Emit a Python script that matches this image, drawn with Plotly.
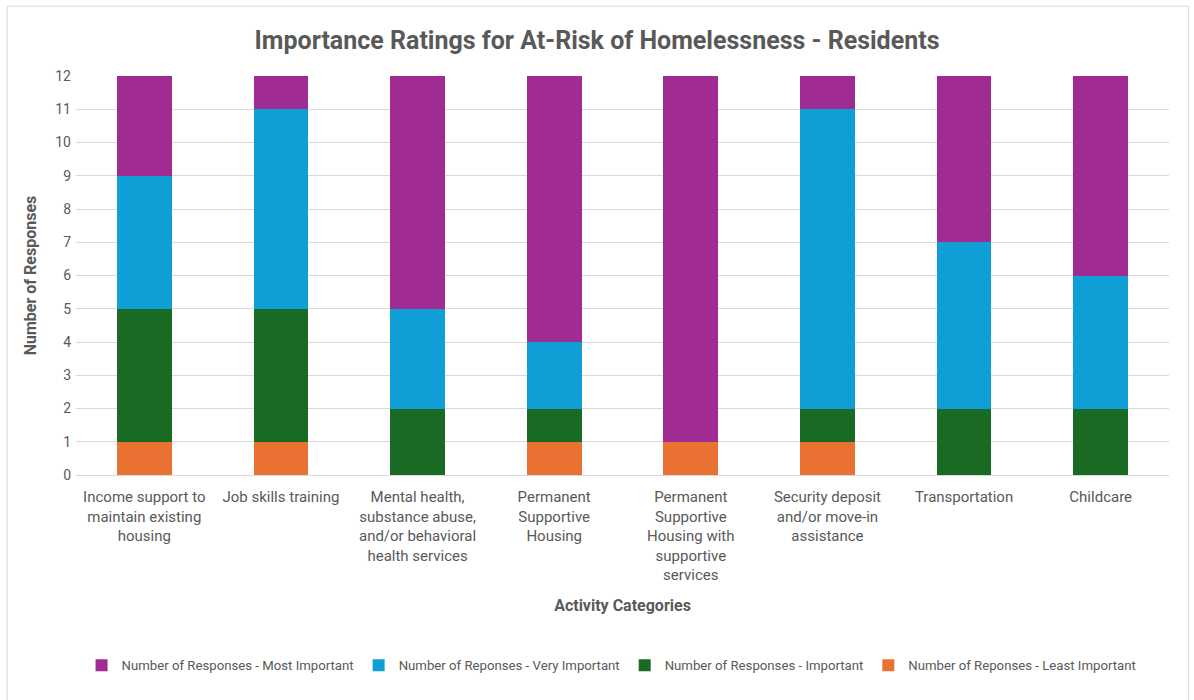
import plotly.graph_objects as go

categories = [
    "Income support to<br>maintain existing<br>housing",
    "Job skills training",
    "Mental health,<br>substance abuse,<br>and/or behavioral<br>health services",
    "Permanent<br>Supportive<br>Housing",
    "Permanent<br>Supportive<br>Housing with<br>supportive<br>services",
    "Security deposit<br>and/or move-in<br>assistance",
    "Transportation",
    "Childcare",
]
least = [1, 1, 0, 1, 1, 1, 0, 0]
important = [4, 4, 2, 1, 0, 1, 2, 2]
very = [4, 6, 3, 2, 0, 9, 5, 4]
most = [3, 1, 7, 8, 11, 1, 5, 6]

series = [
    ("Number of Reponses - Least Important", least, "#E97132"),
    ("Number of Responses - Important", important, "#196B24"),
    ("Number of Reponses - Very Important", very, "#0F9ED5"),
    ("Number of Responses - Most Important", most, "#A02B93"),
]

fig = go.Figure()
for name, vals, col in series:
    fig.add_trace(go.Bar(x=categories, y=vals, name=name, marker_color=col,
                         marker_line_width=0))

font = "Roboto"
fig.update_layout(
    barmode="stack",
    bargap=0.6,
    width=1194, height=700,
    paper_bgcolor="white", plot_bgcolor="white",
    margin=dict(l=76, r=25, t=76, b=225, autoexpand=False),
    font=dict(family=font, color="#595959", size=14),
    title=dict(text="<b>Importance Ratings for At-Risk of Homelessness - Residents</b>",
               x=0.5, xanchor="center", y=0.943, yanchor="middle",
               font=dict(size=25, color="#595959", family=font)),
    legend=dict(orientation="h", traceorder="reversed", x=0.49, xanchor="center",
                y=-0.478, yanchor="middle", font=dict(size=13.2, color="#595959"),
                itemwidth=30, tracegroupgap=0),
    showlegend=True,
)
fig.update_yaxes(range=[0, 12], dtick=1, showgrid=True, gridcolor="#D9D9D9",
                 zeroline=False, tickfont=dict(size=14, color="#595959"),
                 ticklabelstandoff=4,
                 title=dict(text="<b>Number of Responses</b>", font=dict(size=16, color="#595959"),
                            standoff=14))
fig.update_xaxes(showline=True, linecolor="#D9D9D9", tickfont=dict(size=15, color="#595959"),
                 ticklabelstandoff=8,
                 title=dict(text="<b>Activity Categories</b>", font=dict(size=16, color="#595959"),
                            standoff=16), tickangle=0)
fig.add_shape(type="rect", xref="paper", yref="paper", x0=-0.063, x1=1.018, y0=-0.585, y1=1.175,
              line=dict(color="#D9D9D9", width=1))
fig.write_html("out.html")
